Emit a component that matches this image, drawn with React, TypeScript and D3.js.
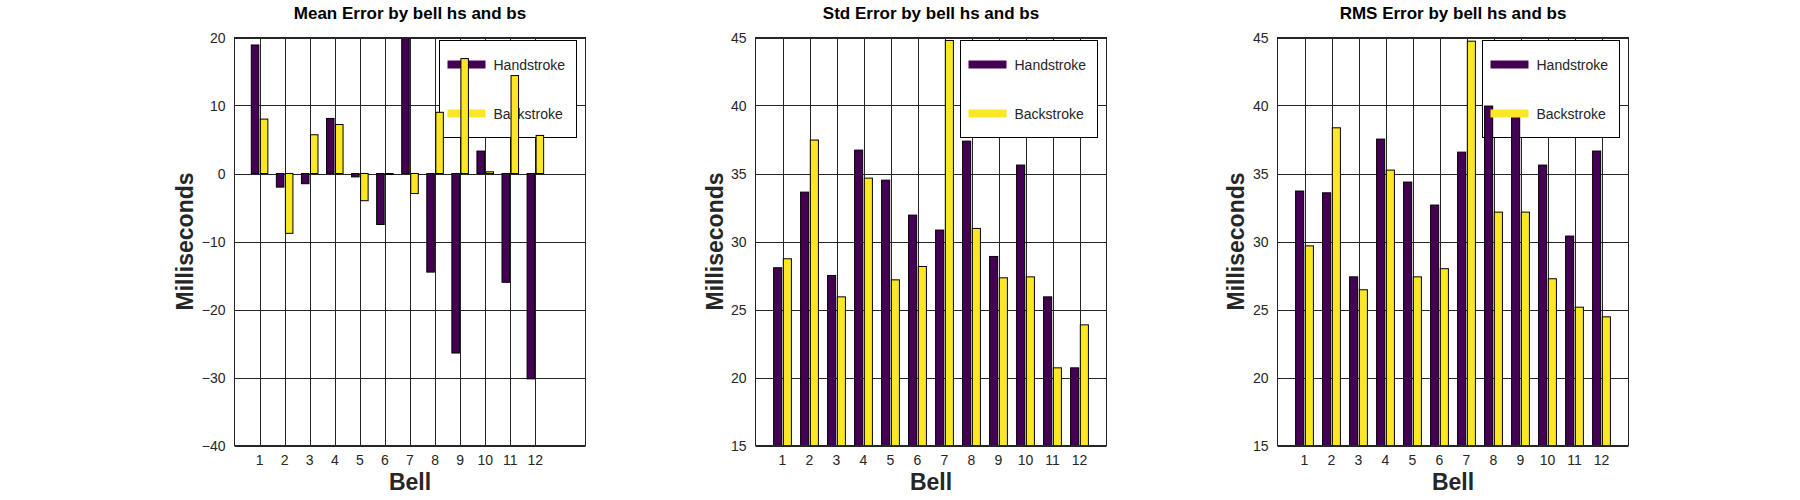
import * as d3 from "d3";
import { useEffect, useRef } from "react";

// Bells along the x axis
const bells = [1, 2, 3, 4, 5, 6, 7, 8, 9, 10, 11, 12];
const seriesNames = ["Handstroke", "Backstroke"];
const seriesColors = ["#440154", "#fde725"];

// Mean error (ms)
const meanHandstroke = [18.9, -2.0, -1.5, 8.1, -0.5, -7.5, 20.0, -14.5, -26.4, 3.3, -16.0, -30.2];
const meanBackstroke = [8.0, -8.8, 5.7, 7.2, -4.0, -0.15, -2.95, 9.0, 16.9, 0.25, 14.4, 5.6];

// Std error (ms)
const stdHandstroke = [28.07, 33.63, 27.5, 36.72, 34.51, 31.94, 30.84, 37.38, 28.9, 35.62, 25.93, 20.71];
const stdBackstroke = [28.73, 37.46, 25.93, 34.66, 27.18, 28.16, 44.78, 30.96, 27.33, 27.4, 20.71, 23.87];

// RMS error (ms)
const rmsHandstroke = [33.71, 33.58, 27.4, 37.53, 34.37, 32.68, 36.57, 39.96, 39.2, 35.62, 30.4, 36.65];
const rmsBackstroke = [29.68, 38.36, 26.45, 35.25, 27.4, 28.0, 44.73, 32.16, 32.16, 27.26, 25.17, 24.46];

const meanTicks = [-40, -30, -20, -10, 0, 10, 20];
const errTicks = [15, 20, 25, 30, 35, 40, 45];

const titles = [
  "Mean Error by bell hs and bs",
  "Std Error by bell hs and bs",
  "RMS Error by bell hs and bs",
];

const panels = [
  { title: titles[0], hs: meanHandstroke, bs: meanBackstroke, yDomain: [-40, 20], yTicks: meanTicks, xMax: 14, left: 234.5, ylabelX: 192.5 },
  { title: titles[1], hs: stdHandstroke, bs: stdBackstroke, yDomain: [15, 45], yTicks: errTicks, xMax: 13, left: 755.5, ylabelX: 723 },
  { title: titles[2], hs: rmsHandstroke, bs: rmsBackstroke, yDomain: [15, 45], yTicks: errTicks, xMax: 13, left: 1277.5, ylabelX: 1244 },
];

const FONT = "'Liberation Sans', Arial, Helvetica, sans-serif";
const INK = "#262626";

const BellErrorCharts = () => {
  const ref = useRef<SVGSVGElement>(null);

  useEffect(() => {
    const width = 1800;
    const height = 500;
    const top = 37.5;
    const bottom = 445.5;
    const plotW = 351;

    const svg = d3
      .select(ref.current)
      .attr("width", width)
      .attr("height", height)
      .html("");

    const defs = svg.append("defs");

    panels.forEach((p, i) => {
      const x = d3.scaleLinear().domain([0, p.xMax]).range([p.left, p.left + plotW]);
      const y = d3.scaleLinear().domain(p.yDomain).range([bottom, top]);
      const g = svg.append("g");

      const clipId = `plot-clip-${i}`;
      defs
        .append("clipPath")
        .attr("id", clipId)
        .append("rect")
        .attr("x", p.left)
        .attr("y", top)
        .attr("width", plotW)
        .attr("height", bottom - top);

      // grid
      g.selectAll(".vgrid")
        .data(bells)
        .join("line")
        .attr("x1", (d) => Math.round(x(d)) + 0.5)
        .attr("x2", (d) => Math.round(x(d)) + 0.5)
        .attr("y1", top)
        .attr("y2", bottom)
        .attr("stroke", INK)
        .attr("stroke-width", 1);

      g.selectAll(".hgrid")
        .data(p.yTicks)
        .join("line")
        .attr("x1", p.left)
        .attr("x2", p.left + plotW)
        .attr("y1", (d) => Math.round(y(d)) + 0.5)
        .attr("y2", (d) => Math.round(y(d)) + 0.5)
        .attr("stroke", INK)
        .attr("stroke-width", 1);

      // legend box
      const lw = 137;
      const lh = 97;
      const lx = p.left + plotW - 9 - lw;
      const ly = 40.5;
      g.append("rect")
        .attr("x", lx)
        .attr("y", ly)
        .attr("width", lw)
        .attr("height", lh)
        .attr("fill", "#fff")
        .attr("stroke", "#000")
        .attr("stroke-width", 1);

      const bars = (vals: number[], offset: number, color: string) => {
        const y0 = y(0);
        g.append("g")
          .attr("clip-path", `url(#${clipId})`)
          .selectAll("rect")
          .data(vals)
          .join("rect")
          .attr("x", (_, k) => x(bells[k] + offset))
          .attr("width", x(0.3) - x(0))
          .attr("y", (d) => Math.min(y(d), y0))
          .attr("height", (d) => Math.abs(y(d) - y0))
          .attr("fill", color)
          .attr("stroke", "#000")
          .attr("stroke-width", 1);
      };

      bars(p.hs, -0.33, seriesColors[0]);

      // legend entries
      seriesNames.forEach((name, k) => {
        const cy = ly + 24 + k * 49;
        g.append("line")
          .attr("x1", lx + 8)
          .attr("x2", lx + 46)
          .attr("y1", cy)
          .attr("y2", cy)
          .attr("stroke", seriesColors[k])
          .attr("stroke-width", 8);
        g.append("text")
          .attr("x", lx + 54)
          .attr("y", cy + 5)
          .style("font-family", FONT)
          .style("font-size", "14px")
          .style("fill", INK)
          .text(name);
      });

      bars(p.bs, 0.03, seriesColors[1]);

      // frame
      g.append("rect")
        .attr("x", p.left)
        .attr("y", top)
        .attr("width", plotW)
        .attr("height", bottom - top)
        .attr("fill", "none")
        .attr("stroke", INK)
        .attr("stroke-width", 1);

      // y tick labels
      g.selectAll(".ytick")
        .data(p.yTicks)
        .join("text")
        .attr("x", p.left - 9)
        .attr("y", (d) => y(d) + 5)
        .attr("text-anchor", "end")
        .style("font-family", FONT)
        .style("font-size", "14px")
        .style("fill", INK)
        .text((d) => d3.format("d")(d));

      // x tick labels
      g.selectAll(".xtick")
        .data(bells)
        .join("text")
        .attr("x", (d) => x(d))
        .attr("y", 465)
        .attr("text-anchor", "middle")
        .style("font-family", FONT)
        .style("font-size", "14px")
        .style("fill", INK)
        .text((d) => d);

      // title
      g.append("text")
        .attr("x", p.left + plotW / 2)
        .attr("y", 19)
        .attr("text-anchor", "middle")
        .style("font-family", FONT)
        .style("font-size", "17px")
        .style("font-weight", "bold")
        .style("fill", "#000")
        .text(p.title);

      // axis labels
      g.append("text")
        .attr("x", p.left + plotW / 2)
        .attr("y", 490)
        .attr("text-anchor", "middle")
        .style("font-family", FONT)
        .style("font-size", "23px")
        .style("font-weight", "bold")
        .style("fill", INK)
        .text("Bell");

      g.append("text")
        .attr("transform", `translate(${p.ylabelX}, ${(top + bottom) / 2}) rotate(-90)`)
        .attr("text-anchor", "middle")
        .style("font-family", FONT)
        .style("font-size", "23px")
        .style("font-weight", "bold")
        .style("fill", INK)
        .text("Milliseconds");
    });
  }, []);

  return (
    <div style={{ position: "absolute", left: 0, top: 0, background: "#fff" }}>
      <svg ref={ref} style={{ display: "block" }}></svg>
    </div>
  );
};

export default function App() {
  return <BellErrorCharts />;
}
